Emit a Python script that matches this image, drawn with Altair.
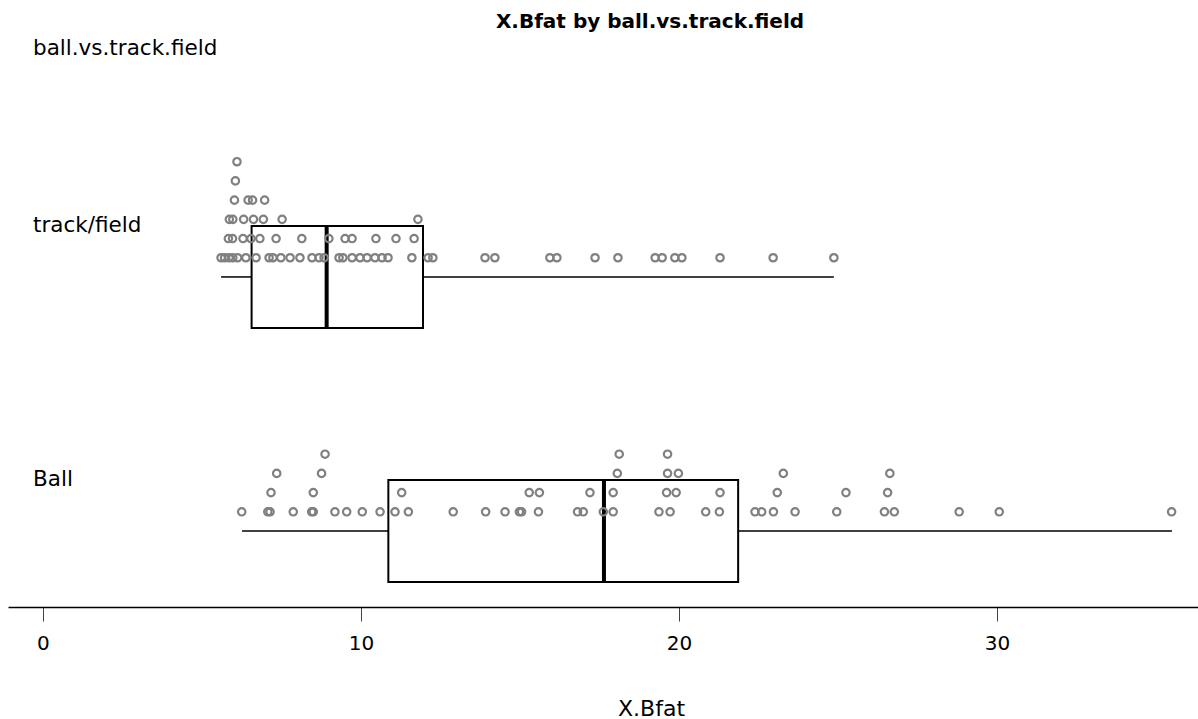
import altair as alt
import pandas as pd

# ---- data ----
groups = ["track/field", "Ball"]

tf_level1 = [5.60, 5.71, 5.85, 5.97, 6.12, 6.38, 6.70, 7.11, 7.23, 7.48, 7.77, 8.08,
             8.46, 8.68, 8.84, 9.31, 9.43, 9.72, 9.97, 10.19, 10.44, 10.66, 10.85,
             11.60, 12.11, 12.26, 13.90, 14.21, 15.94, 16.16, 17.36, 18.08, 19.25,
             19.47, 19.87, 20.09, 21.29, 22.96, 24.87]
tf_level2 = [5.83, 5.96, 6.29, 6.54, 6.82, 7.33, 8.14, 8.99, 9.50, 9.72, 10.47, 11.10, 11.67]
tf_level3 = [5.86, 5.97, 6.31, 6.62, 6.93, 7.52, 11.79]
tf_level4 = [6.02, 6.45, 6.59, 6.97]
tf_level5 = [6.05]
tf_level6 = [6.10]

ball_level1 = [6.25, 7.07, 7.14, 7.87, 8.45, 8.50, 9.18, 9.55, 10.04, 10.60, 11.07, 11.49,
               12.90, 13.92, 14.53, 14.98, 15.05, 15.58, 16.81, 16.99, 17.62, 17.93,
               19.37, 19.72, 20.84, 21.27, 22.39, 22.60, 22.97, 23.65, 24.96, 26.46,
               26.77, 28.81, 30.07, 35.49]
ball_level2 = [7.17, 8.50, 11.28, 15.29, 15.61, 17.20, 17.93, 19.61, 19.91, 21.29, 23.09, 25.25, 26.56]
ball_level3 = [7.35, 8.76, 18.06, 19.64, 19.98, 23.28, 26.63]
ball_level4 = [8.87, 18.12, 19.64]

# five-number summaries (min, Q1, median, Q3, max)
box_min = [5.60, 6.26]
box_q1 = [6.56, 10.86]
box_med = [8.92, 17.64]
box_q3 = [11.95, 21.86]
box_max = [24.87, 35.50]

# ---- build tables ----
rows = []
for g, levels in [("track/field", [tf_level1, tf_level2, tf_level3, tf_level4, tf_level5, tf_level6]),
                  ("Ball", [ball_level1, ball_level2, ball_level3, ball_level4])]:
    for i, vals in enumerate(levels):
        for v in vals:
            rows.append({"group": g, "value": v, "level": i + 1})
dots = pd.DataFrame(rows)

boxes = pd.DataFrame({"group": groups, "lo": box_min, "q1": box_q1, "med": box_med,
                      "q3": box_q3, "hi": box_max})

BASE = "datum.group == 'Ball' ? 0 : 13.23"
HALF = 2.656
FONT = "DejaVu Sans"

xscale = alt.Scale(domain=[-1.10, 36.32], nice=False, zero=False)
yscale = alt.Scale(domain=[-3.958, 26.09], nice=False, zero=False)

xaxis = alt.Axis(values=[0, 10, 20, 30], tickSize=14, labelPadding=12, labelFontSize=20,
                 labelFont=FONT, labelColor="black", titleFont=FONT, titleFontSize=22,
                 titleFontWeight="normal", titleColor="black", titlePadding=45,
                 titleX=643, domainColor="black", domainWidth=1.5, tickColor="#444",
                 tickWidth=1, grid=False)

bx = alt.Chart(boxes).transform_calculate(
    base=BASE, ylo=f"({BASE}) - {HALF}", yhi=f"({BASE}) + {HALF}"
)

whisk_lo = bx.mark_rule(color="black", strokeWidth=1.5).encode(
    x=alt.X("lo:Q", scale=xscale, axis=xaxis, title="X.Bfat"),
    x2="q1:Q",
    y=alt.Y("base:Q", scale=yscale, axis=None),
)
whisk_hi = bx.mark_rule(color="black", strokeWidth=1.5).encode(
    x="q3:Q", x2="hi:Q", y="base:Q"
)
box = bx.mark_rect(filled=False, stroke="black", strokeWidth=2).encode(
    x="q1:Q", x2="q3:Q", y="ylo:Q", y2="yhi:Q"
)
median = bx.mark_rule(color="black", strokeWidth=4).encode(
    x="med:Q", y="ylo:Q", y2="yhi:Q"
)
labels = bx.mark_text(align="left", baseline="middle", fontSize=21.5, font=FONT,
                      color="black").encode(
    x=alt.value(25), y="yhi:Q", text="group:N"
)

points = alt.Chart(dots).transform_calculate(
    yy=f"({BASE}) + datum.level"
).mark_point(shape="circle", filled=False, size=55, strokeWidth=2.2,
             color="#808080", opacity=1).encode(
    x="value:Q", y="yy:Q"
)

header = alt.Chart(pd.DataFrame({"t": ["ball.vs.track.field"]})).mark_text(
    align="left", baseline="middle", fontSize=21.5, font=FONT, color="black"
).encode(x=alt.value(25), y=alt.value(19), text="t:N")

chart = alt.layer(whisk_lo, whisk_hi, box, median, points, labels, header).properties(
    width=1190, height=577,
    background="white",
    title=alt.TitleParams("X.Bfat by ball.vs.track.field", font=FONT, fontSize=20,
                          fontWeight="bold", color="black", anchor="middle", dx=47,
                          offset=-2),
    autosize=alt.AutoSizeParams(type="none"),
    padding={"left": 8, "top": 30, "right": 0, "bottom": 112},
).configure_view(strokeWidth=0, stroke="transparent")

chart.save("out.html", embed_options={"renderer": "svg", "actions": False})
